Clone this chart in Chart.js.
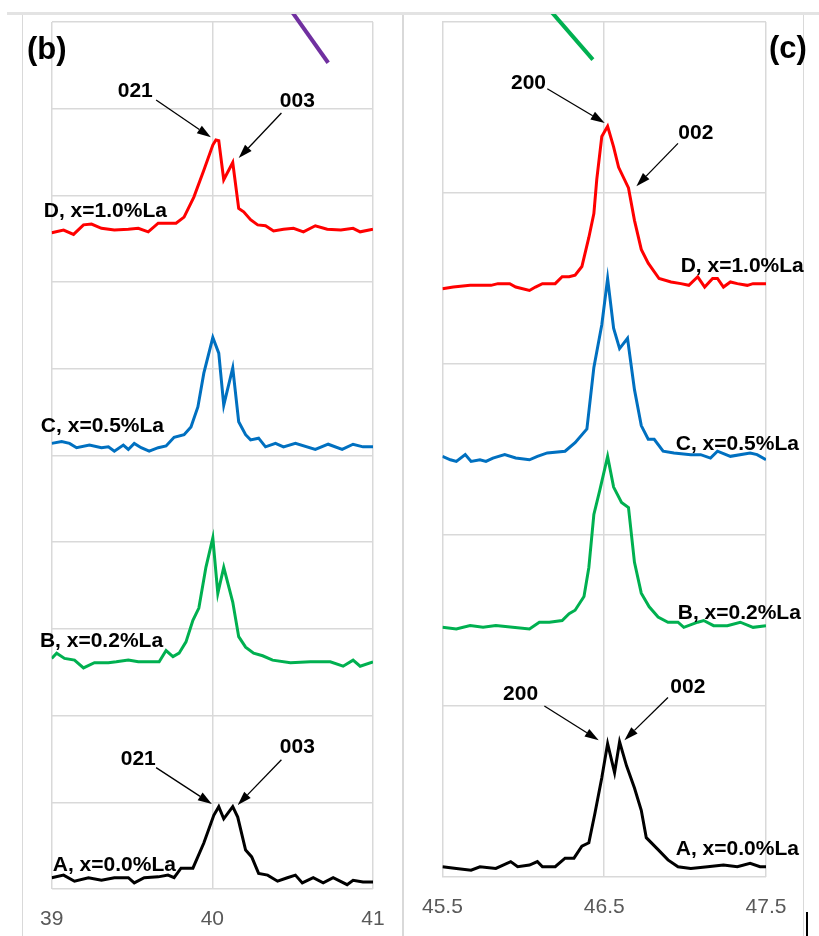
<!DOCTYPE html>
<html lang="en">
<head>
<meta charset="UTF-8">
<title>XRD peaks (b) and (c)</title>
<script src="https://cdn.jsdelivr.net/npm/chart.js"></script>
<style>
  html, body { margin: 0; padding: 0; background: #fff; }
  body { width: 819px; height: 936px; position: relative; overflow: hidden; }
  .topbar { position: absolute; left: 7px; top: 12px; width: 812px; height: 3px; background: #e3e3e3; }
  .frame { position: absolute; top: 15px; bottom: 0; border-left: 1.5px solid #d9d9d9; border-right: 1.5px solid #d9d9d9; }
  #frameB { left: 22px; width: 379px; }
  #frameC { left: 403px; width: 399px; }
  canvas { position: absolute; }
  #chartB { left: 22px; top: 14px; }
  #chartC { left: 404px; top: 14px; }
  .mark { position: absolute; left: 806px; top: 912px; width: 2px; height: 24px; background: #000; }
</style>
</head>
<body>
<div class="topbar"></div>
<div class="frame" id="frameB"></div>
<div class="frame" id="frameC"></div>
<canvas id="chartB" width="381" height="922"></canvas>
<canvas id="chartC" width="415" height="922"></canvas>
<div class="mark"></div>

<script>
// ---- panel (b): 2θ 39–41 ----
const ticksB = [39, 40, 41];
const tickLabelsB = ['39', '40', '41'];

const bD_x = [39.000, 39.074, 39.136, 39.198, 39.248, 39.310, 39.390, 39.477, 39.539, 39.601, 39.663, 39.774, 39.824, 39.885, 39.947, 40.003, 40.022, 40.040, 40.071, 40.127, 40.164, 40.195, 40.238, 40.282, 40.331, 40.381, 40.443, 40.505, 40.567, 40.641, 40.715, 40.800, 40.876, 40.920, 41.000];
const bD_y = [7.57, 7.60, 7.55, 7.66, 7.67, 7.62, 7.60, 7.61, 7.62, 7.58, 7.68, 7.68, 7.75, 7.98, 8.29, 8.58, 8.64, 8.63, 8.18, 8.38, 7.85, 7.81, 7.72, 7.66, 7.65, 7.59, 7.61, 7.62, 7.58, 7.65, 7.61, 7.60, 7.62, 7.58, 7.61];

const bC_x = [39.000, 39.062, 39.111, 39.155, 39.235, 39.310, 39.353, 39.390, 39.446, 39.477, 39.514, 39.557, 39.607, 39.663, 39.712, 39.762, 39.824, 39.867, 39.910, 39.947, 40.003, 40.040, 40.071, 40.127, 40.164, 40.207, 40.238, 40.288, 40.331, 40.393, 40.443, 40.517, 40.641, 40.721, 40.808, 40.876, 40.938, 41.000];
const bC_y = [5.14, 5.16, 5.14, 5.09, 5.12, 5.09, 5.10, 5.05, 5.12, 5.07, 5.14, 5.09, 5.05, 5.09, 5.11, 5.21, 5.24, 5.33, 5.56, 5.95, 6.36, 6.18, 5.58, 6.01, 5.39, 5.24, 5.18, 5.20, 5.10, 5.14, 5.10, 5.14, 5.07, 5.13, 5.07, 5.13, 5.10, 5.10];

const bB_x = [39.000, 39.031, 39.080, 39.142, 39.198, 39.266, 39.353, 39.402, 39.477, 39.539, 39.601, 39.669, 39.712, 39.755, 39.793, 39.836, 39.879, 39.916, 39.960, 40.003, 40.034, 40.071, 40.127, 40.164, 40.207, 40.257, 40.313, 40.375, 40.486, 40.610, 40.734, 40.814, 40.876, 40.920, 41.000];
const bB_y = [2.66, 2.72, 2.66, 2.64, 2.55, 2.61, 2.61, 2.62, 2.64, 2.62, 2.62, 2.62, 2.75, 2.68, 2.72, 2.85, 3.10, 3.24, 3.71, 4.05, 3.41, 3.71, 3.31, 2.91, 2.79, 2.72, 2.69, 2.64, 2.61, 2.62, 2.62, 2.57, 2.64, 2.57, 2.62];

const bA_x = [39.000, 39.074, 39.142, 39.229, 39.310, 39.390, 39.477, 39.514, 39.576, 39.663, 39.724, 39.762, 39.805, 39.879, 39.947, 40.009, 40.040, 40.071, 40.127, 40.158, 40.207, 40.245, 40.288, 40.344, 40.406, 40.467, 40.517, 40.560, 40.628, 40.690, 40.752, 40.839, 40.876, 40.938, 41.000];
const bA_y = [0.13, 0.16, 0.09, 0.13, 0.10, 0.13, 0.13, 0.07, 0.13, 0.14, 0.16, 0.13, 0.24, 0.24, 0.53, 0.85, 0.95, 0.81, 0.95, 0.83, 0.45, 0.37, 0.18, 0.16, 0.09, 0.13, 0.16, 0.07, 0.13, 0.07, 0.13, 0.05, 0.10, 0.08, 0.08];

// cut-off arrow from the neighbouring figure
const bCut_x = [40.495, 40.721];
const bCut_y = [10.12, 9.53];

const textsB = [
  { t: '(b)', x: 38.969, y: 9.67, size: 31 },
  { t: '021', x: 39.520, y: 9.20 },
  { t: '003', x: 40.529, y: 9.09 },
  { t: 'D, x=1.0%La', x: 39.334, y: 7.82 },
  { t: 'C, x=0.5%La', x: 39.316, y: 5.34 },
  { t: 'B, x=0.2%La', x: 39.310, y: 2.86 },
  { t: '021', x: 39.539, y: 1.50 },
  { t: '003', x: 40.529, y: 1.64 },
  { t: 'A, x=0.0%La', x: 39.390, y: 0.28 }
];
const arrowsB = [
  [39.650, 9.10, 39.991, 8.67],
  [40.430, 8.95, 40.164, 8.43],
  [39.650, 1.40, 39.997, 0.98],
  [40.430, 1.49, 40.158, 0.97]
];

// ---- panel (c): 2θ 45.5–47.5 ----
const ticksC = [45.5, 46.5, 47.5];
const tickLabelsC = ['45.5', '46.5', '47.5'];

const cD_x = [45.500, 45.567, 45.671, 45.800, 45.843, 45.916, 45.953, 46.038, 46.075, 46.118, 46.161, 46.197, 46.240, 46.283, 46.320, 46.362, 46.405, 46.436, 46.454, 46.485, 46.521, 46.558, 46.589, 46.650, 46.687, 46.729, 46.772, 46.839, 46.913, 46.974, 47.023, 47.078, 47.121, 47.170, 47.200, 47.237, 47.280, 47.323, 47.384, 47.420, 47.500];
const cD_y = [3.44, 3.45, 3.46, 3.46, 3.47, 3.47, 3.45, 3.43, 3.45, 3.47, 3.47, 3.47, 3.51, 3.51, 3.52, 3.57, 3.74, 3.88, 4.08, 4.33, 4.39, 4.27, 4.15, 4.03, 3.84, 3.67, 3.59, 3.50, 3.48, 3.47, 3.46, 3.51, 3.45, 3.50, 3.50, 3.45, 3.48, 3.47, 3.46, 3.47, 3.47];

const cC_x = [45.500, 45.549, 45.586, 45.641, 45.677, 45.732, 45.769, 45.812, 45.885, 45.953, 46.038, 46.087, 46.148, 46.258, 46.320, 46.393, 46.436, 46.485, 46.521, 46.558, 46.595, 46.644, 46.687, 46.729, 46.772, 46.809, 46.864, 46.931, 47.035, 47.096, 47.157, 47.200, 47.280, 47.402, 47.445, 47.500];
const cC_y = [2.46, 2.44, 2.43, 2.47, 2.43, 2.44, 2.43, 2.45, 2.47, 2.45, 2.44, 2.46, 2.48, 2.49, 2.54, 2.62, 2.98, 3.23, 3.50, 3.21, 3.09, 3.15, 2.85, 2.64, 2.56, 2.56, 2.49, 2.48, 2.47, 2.47, 2.45, 2.49, 2.46, 2.48, 2.47, 2.44];

const cB_x = [45.500, 45.586, 45.671, 45.751, 45.830, 45.934, 46.038, 46.099, 46.161, 46.240, 46.283, 46.320, 46.375, 46.405, 46.436, 46.472, 46.521, 46.558, 46.607, 46.650, 46.687, 46.729, 46.778, 46.833, 46.894, 46.956, 46.992, 47.078, 47.115, 47.176, 47.261, 47.341, 47.420, 47.500];
const cB_y = [1.46, 1.45, 1.47, 1.46, 1.47, 1.46, 1.45, 1.49, 1.49, 1.50, 1.54, 1.56, 1.64, 1.81, 2.12, 2.26, 2.46, 2.28, 2.19, 2.16, 1.84, 1.66, 1.58, 1.52, 1.49, 1.49, 1.46, 1.49, 1.50, 1.47, 1.47, 1.49, 1.46, 1.47];

const cA_x = [45.500, 45.586, 45.677, 45.732, 45.830, 45.922, 45.965, 46.038, 46.087, 46.118, 46.197, 46.258, 46.313, 46.362, 46.405, 46.442, 46.485, 46.521, 46.564, 46.595, 46.638, 46.687, 46.729, 46.760, 46.833, 46.894, 46.956, 47.035, 47.139, 47.237, 47.323, 47.402, 47.463, 47.500];
const cA_y = [0.06, 0.05, 0.04, 0.06, 0.05, 0.09, 0.06, 0.07, 0.09, 0.06, 0.06, 0.11, 0.11, 0.18, 0.20, 0.37, 0.58, 0.78, 0.61, 0.79, 0.65, 0.52, 0.39, 0.23, 0.16, 0.10, 0.06, 0.05, 0.06, 0.07, 0.06, 0.08, 0.06, 0.06];

const cCut_x = [46.173, 46.430];
const cCut_y = [5.06, 4.78];

const textsC = [
  { t: '(c)', x: 47.635, y: 4.84, size: 31 },
  { t: '200', x: 46.032, y: 4.64 },
  { t: '002', x: 47.066, y: 4.35 },
  { t: 'D, x=1.0%La', x: 47.353, y: 3.57 },
  { t: 'C, x=0.5%La', x: 47.323, y: 2.53 },
  { t: 'B, x=0.2%La', x: 47.335, y: 1.54 },
  { t: '200', x: 45.983, y: 1.07 },
  { t: '002', x: 47.017, y: 1.11 },
  { t: 'A, x=0.0%La', x: 47.323, y: 0.16 }
];
const arrowsC = [
  [46.148, 4.61, 46.503, 4.41],
  [46.956, 4.29, 46.699, 4.04],
  [46.130, 1.00, 46.466, 0.80],
  [46.894, 1.05, 46.625, 0.80]
];

const FONT = '"Liberation Sans", Arial, sans-serif';

// arrows + text labels, placed in data units
const notes = {
  id: 'notes',
  afterDatasetsDraw(chart, args, o) {
    const ctx = chart.ctx, sx = chart.scales.x, sy = chart.scales.y;
    ctx.save();
    ctx.strokeStyle = '#000';
    ctx.fillStyle = '#000';
    ctx.lineWidth = 1.3;
    o.arrows.forEach(a => {
      const x1 = sx.getPixelForValue(a[0]), y1 = sy.getPixelForValue(a[1]);
      const x2 = sx.getPixelForValue(a[2]), y2 = sy.getPixelForValue(a[3]);
      const ang = Math.atan2(y2 - y1, x2 - x1), L = 14, W = 4.5;
      const bx = x2 - L * Math.cos(ang), by = y2 - L * Math.sin(ang);
      ctx.beginPath(); ctx.moveTo(x1, y1); ctx.lineTo(bx, by); ctx.stroke();
      ctx.beginPath();
      ctx.moveTo(x2, y2);
      ctx.lineTo(bx + W * Math.sin(ang), by - W * Math.cos(ang));
      ctx.lineTo(bx - W * Math.sin(ang), by + W * Math.cos(ang));
      ctx.closePath();
      ctx.fill();
    });
    ctx.textAlign = 'center';
    ctx.textBaseline = 'middle';
    o.texts.forEach(t => {
      ctx.font = 'bold ' + (t.size || 21) + 'px ' + FONT;
      ctx.fillText(t.t, sx.getPixelForValue(t.x), sy.getPixelForValue(t.y));
    });
    ctx.restore();
  }
};

function series(xs, ys, color, width, noClip) {
  const ds = {
    data: xs.map((v, i) => ({ x: v, y: ys[i] })),
    borderColor: color,
    borderWidth: width,
    pointRadius: 0,
    tension: 0,
    fill: false
  };
  if (noClip) ds.clip = false;
  return ds;
}

function makePanel(id, p) {
  return new Chart(document.getElementById(id), {
    type: 'line',
    data: { datasets: p.datasets },
    options: {
      responsive: false,
      animation: false,
      layout: { padding: p.pad },
      plugins: {
        legend: { display: false },
        tooltip: { enabled: false },
        notes: { texts: p.texts, arrows: p.arrows }
      },
      scales: {
        x: {
          type: 'linear',
          min: p.xMin,
          max: p.xMax,
          afterBuildTicks: sc => { sc.ticks = p.ticks.map(v => ({ value: v })); },
          afterFit: sc => { sc.height = 40; },
          ticks: {
            callback: (v, i) => p.tickLabels[i],
            color: '#595959',
            font: { size: 21, family: FONT },
            padding: 18,
            maxRotation: 0,
            autoSkip: false
          },
          grid: { color: '#d9d9d9', lineWidth: 1.5, drawTicks: false },
          border: { display: false }
        },
        y: {
          min: 0,
          max: p.yMax,
          ticks: { display: false, stepSize: 1 },
          grid: { color: '#d9d9d9', lineWidth: 1.5, drawTicks: false },
          border: { display: false }
        }
      }
    },
    plugins: [notes]
  });
}

makePanel('chartB', {
  xMin: 39, xMax: 41, yMax: 10,
  ticks: ticksB, tickLabels: tickLabelsB,
  pad: { left: 28, right: 30, top: 8, bottom: 7 },
  texts: textsB, arrows: arrowsB,
  datasets: [
    series(bA_x, bA_y, '#000000', 3),
    series(bB_x, bB_y, '#00B050', 3),
    series(bC_x, bC_y, '#0070C0', 3),
    series(bD_x, bD_y, '#FF0000', 3),
    series(bCut_x, bCut_y, '#7030A0', 4, true)
  ]
});

makePanel('chartC', {
  xMin: 45.5, xMax: 47.5, yMax: 5,
  ticks: ticksC, tickLabels: tickLabelsC,
  pad: { left: 35, right: 53, top: 8, bottom: 19 },
  texts: textsC, arrows: arrowsC,
  datasets: [
    series(cA_x, cA_y, '#000000', 3),
    series(cB_x, cB_y, '#00B050', 3),
    series(cC_x, cC_y, '#0070C0', 3),
    series(cD_x, cD_y, '#FF0000', 3),
    series(cCut_x, cCut_y, '#00B050', 4, true)
  ]
});
</script>
</body>
</html>
